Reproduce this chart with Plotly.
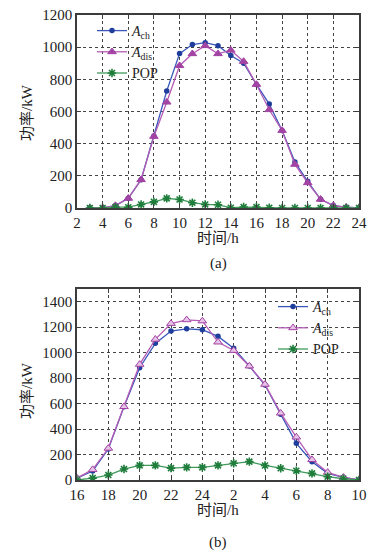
import plotly.graph_objects as go

# ---- data (a) ----
hours_a = list(range(3, 25))
ach_a = [0, 0, 15, 60, 176, 447, 727, 960, 1016, 1028, 1009, 948, 900, 768, 646, 482, 286, 166, 54, 15, 5, 0]
adis_a = [0, 0, 15, 60, 176, 445, 658, 885, 959, 1009, 959, 981, 911, 768, 611, 482, 271, 157, 54, 15, 5, 0]
pop_a = [0, 0, 5, 5, 22, 38, 60, 53, 33, 22, 20, 2, 6, 6, 2, 0, 0, 0, 0, 0, 0, 0]
xticks_a = list(range(2, 25, 2))

# ---- data (b) ----
hours_b = list(range(16, 35))
ach_b = [15, 70, 243, 576, 882, 1073, 1170, 1187, 1180, 1128, 1034, 895, 746, 516, 288, 144, 52, 21, 0]
adis_b = [15, 82, 249, 576, 908, 1105, 1229, 1258, 1249, 1083, 1017, 895, 751, 525, 337, 160, 60, 21, 0]
pop_b = [0, 15, 39, 86, 115, 115, 93, 99, 99, 115, 131, 144, 114, 92, 73, 52, 26, 10, 0]
xticks_b = list(range(16, 35, 2))
xticklabels_b = ["16", "18", "20", "22", "24", "2", "4", "6", "8", "10"]

names = ["<i>A</i><sub>ch</sub>", "<i>A</i><sub>dis</sub>", "POP"]

W, H = 375, 558
FONT = "Liberation Serif, Noto Sans CJK SC, serif"

BLUE_L, BLUE_M = "#3a58bb", "#1f3d9c"
PINK_L, PINK_M = "#b55cb5", "#a343a3"
GREEN_L, GREEN_M = "#3f9a5a", "#1f7d3c"

fig = go.Figure()


def add_set(x, ys, xa, ya, leg, open_tri=False):
    fig.add_trace(go.Scatter(x=x, y=ys[0], name=names[0], mode="lines+markers",
                             line=dict(color=BLUE_L, width=1.3),
                             marker=dict(symbol="circle", size=5.5, color=BLUE_M),
                             xaxis=xa, yaxis=ya, legend=leg))
    fig.add_trace(go.Scatter(x=x, y=ys[1], name=names[1], mode="lines+markers",
                             line=dict(color=PINK_L, width=1.3),
                             marker=dict(symbol="triangle-up", size=7.5,
                                         color="#e7c3e7" if open_tri else PINK_M,
                                         line=dict(color=PINK_M, width=1)),
                             xaxis=xa, yaxis=ya, legend=leg))
    fig.add_trace(go.Scatter(x=x, y=ys[2], name=names[2], mode="lines+markers",
                             line=dict(color=GREEN_L, width=1.3),
                             marker=dict(symbol="asterisk", size=7,
                                         color=GREEN_M, line=dict(color=GREEN_M, width=1.6)),
                             xaxis=xa, yaxis=ya, legend=leg))


add_set(hours_a, [ach_a, adis_a, pop_a], "x", "y", "legend")
add_set(hours_b, [ach_b, adis_b, pop_b], "x2", "y2", "legend2", open_tri=True)

xd = [77 / W, 359 / W]
axis_common = dict(showline=True, linecolor="#3c3c3c", linewidth=1.5, mirror="ticks",
                   ticks="inside", ticklen=4, tickcolor="#3c3c3c", automargin=False,
                   showgrid=True, gridcolor="#444444", gridwidth=1, griddash="dot",
                   zeroline=False, tickfont=dict(family=FONT, size=15, color="#222"))

fig.update_layout(
    width=W, height=H, margin=dict(l=0, r=0, t=0, b=0, autoexpand=False),
    paper_bgcolor="white", plot_bgcolor="white",
    font=dict(family=FONT, size=14, color="#222"),
    xaxis=dict(domain=xd, anchor="y", range=[2, 24], tickvals=xticks_a, **axis_common),
    yaxis=dict(domain=[1 - 208 / H, 1 - 15 / H], anchor="x", range=[0, 1200],
               tickvals=list(range(0, 1201, 200)), **axis_common),
    xaxis2=dict(domain=xd, anchor="y2", range=[16, 34], tickvals=xticks_b,
                ticktext=xticklabels_b, **axis_common),
    yaxis2=dict(domain=[1 - 480 / H, 1 - 289 / H], anchor="x2", range=[0, 1500],
                tickvals=list(range(0, 1401, 200)), **axis_common),
    legend=dict(x=92 / W, y=1 - 15 / H, xanchor="left", yanchor="top",
                bgcolor="rgba(255,255,255,0)", font=dict(family=FONT, size=14),
                tracegroupgap=0, itemwidth=30),
    legend2=dict(x=273 / W, y=1 - 291 / H, xanchor="left", yanchor="top",
                 bgcolor="rgba(255,255,255,0)", font=dict(family=FONT, size=14),
                 tracegroupgap=0, itemwidth=30),
    showlegend=True,
)

ann = [
    dict(text="功率/kW", x=27 / W, y=1 - 112 / H, textangle=-90),
    dict(text="时间/h", x=218 / W, y=1 - 238 / H),
    dict(text="(a)", x=218 / W, y=1 - 263 / H),
    dict(text="功率/kW", x=27 / W, y=1 - 390 / H, textangle=-90),
    dict(text="时间/h", x=218 / W, y=1 - 510 / H),
    dict(text="(b)", x=218 / W, y=1 - 542 / H),
]
for a in ann:
    fig.add_annotation(xref="paper", yref="paper", showarrow=False,
                       xanchor="center", yanchor="middle",
                       font=dict(family=FONT, size=15, color="#222"), **a)

fig.write_html("out.html", config={"displayModeBar": False},
               post_script="document.body.style.margin='0';document.body.style.padding='0';")
